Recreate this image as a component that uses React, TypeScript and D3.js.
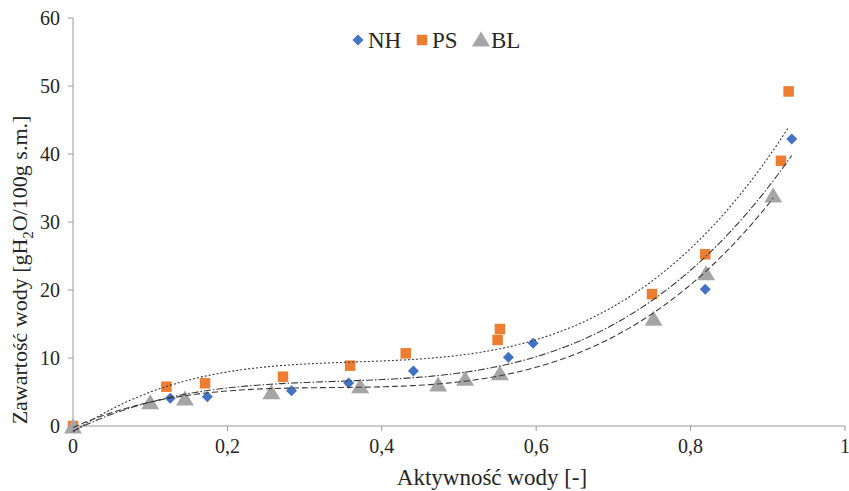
import React from "react";
import * as d3 from "d3";

// ---- data ----
const nhAw = [0, 0.126, 0.174, 0.283, 0.357, 0.441, 0.564, 0.596, 0.819, 0.931];
const nhM = [0, 4.07, 4.31, 5.19, 6.32, 8.09, 10.1, 12.16, 20.1, 42.2];

const psAw = [0, 0.121, 0.171, 0.272, 0.359, 0.431, 0.55, 0.553, 0.75, 0.819, 0.917, 0.927];
const psM = [0, 5.78, 6.28, 7.25, 8.87, 10.69, 12.65, 14.26, 19.4, 25.25, 39.0, 49.2];

const blAw = [0, 0.1, 0.145, 0.257, 0.372, 0.473, 0.508, 0.553, 0.752, 0.82, 0.907];
const blM = [0, 3.57, 4.12, 5.04, 5.93, 6.18, 7.01, 7.84, 15.84, 22.54, 33.97];

const xTicks = [0, 0.2, 0.4, 0.6, 0.8, 1];
const yTicks = [0, 10, 20, 30, 40, 50, 60];
const seriesNames = ["NH", "PS", "BL"];

// ---- polynomial (cubic) least-squares trend line, as in a spreadsheet ----
function polyFit(xs: number[], ys: number[], deg: number) {
  const n = deg + 1;
  const A = d3.range(n).map(() => d3.range(n + 1).map(() => 0));
  xs.forEach((xv, k) => {
    for (let i = 0; i < n; i++) {
      for (let j = 0; j < n; j++) A[i][j] += Math.pow(xv, i + j);
      A[i][n] += ys[k] * Math.pow(xv, i);
    }
  });
  for (let c = 0; c < n; c++) {
    let p = c;
    for (let r = c + 1; r < n; r++) if (Math.abs(A[r][c]) > Math.abs(A[p][c])) p = r;
    [A[c], A[p]] = [A[p], A[c]];
    for (let r = 0; r < n; r++) {
      if (r === c) continue;
      const f = A[r][c] / A[c][c];
      for (let j = c; j <= n; j++) A[r][j] -= f * A[c][j];
    }
  }
  return d3.range(n).map((i) => A[i][n] / A[i][i]);
}
const polyVal = (co: number[], a: number) => co.reduce((s, c, i) => s + c * Math.pow(a, i), 0);

const W = 849, H = 491;
const x = d3.scaleLinear().domain([0, 1]).range([73, 845]);
const y = d3.scaleLinear().domain([0, 60]).range([426, 18]);

const colors = ["#4472C4", "#ED7D31", "#A5A5A5"];
const dashes = ["7,2,1.5,2", "2,2", "6,3"];
const serif = "'Liberation Serif', 'Times New Roman', serif";
const textCol = "#262626";
const axisCol = "#9a9a9a";

function Marker({ kind, cx, cy }: { kind: number; cx: number; cy: number }) {
  if (kind === 0) {
    const r = 5.5;
    return <path d={`M${cx},${cy - r}L${cx + r},${cy}L${cx},${cy + r}L${cx - r},${cy}Z`} fill={colors[0]} />;
  }
  if (kind === 1) {
    const s = 10.5;
    return <rect x={cx - s / 2} y={cy - s / 2} width={s} height={s} fill={colors[1]} />;
  }
  const w = 18, h = 15;
  return <path d={`M${cx},${cy - h / 2}L${cx + w / 2},${cy + h / 2}L${cx - w / 2},${cy + h / 2}Z`} fill={colors[2]} />;
}

export default function App() {
  const all = [
    { aw: nhAw, m: nhM },
    { aw: psAw, m: psM },
    { aw: blAw, m: blM },
  ];
  const fits = all.map((s) => polyFit(s.aw, s.m, 3));
  const line = d3.line<[number, number]>().x((d) => x(d[0])).y((d) => y(d[1]));

  return (
    <svg width={W} height={H} style={{ position: "absolute", left: 0, top: 0, background: "#fff" }}>
      <rect width={W} height={H} fill="#fff" />
      {/* axes */}
      <line x1={x(0)} x2={x(0)} y1={y(60)} y2={y(0)} stroke={axisCol} strokeWidth={1} />
      <line x1={x(0)} x2={x(1)} y1={y(0)} y2={y(0)} stroke={axisCol} strokeWidth={1} />
      {yTicks.map((t) => (
        <g key={"y" + t}>
          <line x1={x(0) - 5} x2={x(0)} y1={y(t)} y2={y(t)} stroke={axisCol} />
          <text x={60} y={y(t) + 6.5} textAnchor="end" fontFamily={serif} fontSize={20} fill={textCol}>{t}</text>
        </g>
      ))}
      {xTicks.map((t) => (
        <g key={"x" + t}>
          <line x1={x(t)} x2={x(t)} y1={y(0)} y2={y(0) + 5} stroke={axisCol} />
          <text x={x(t)} y={453} textAnchor="middle" fontFamily={serif} fontSize={20} fill={textCol}>{String(t).replace(".", ",")}</text>
        </g>
      ))}
      <text x={(x(0) + x(1)) / 2 + 33} y={485} textAnchor="middle" fontFamily={serif} fontSize={23} fill={textCol}>Aktywność wody [-]</text>
      <text transform={`translate(27,${270}) rotate(-90)`} textAnchor="middle" fontFamily={serif} fontSize={22} fill={textCol}>
        Zawartość wody [gH<tspan fontSize={15} dy={6}>2</tspan><tspan dy={-6}>O/100g s.m.]</tspan>
      </text>

      {/* markers */}
      {all.map((s, k) => (
        <g key={"s" + k}>
          {s.aw.map((a, i) => <Marker key={i} kind={k} cx={x(a)} cy={y(s.m[i])} />)}
        </g>
      ))}

      {/* trend lines */}
      {all.map((s, k) => {
        const maxA = d3.max(s.aw) as number;
        const pts: [number, number][] = d3.range(0, 201).map((i) => {
          const a = (maxA * i) / 200;
          return [a, polyVal(fits[k], a)];
        });
        return <path key={"l" + k} d={line(pts) || ""} fill="none" stroke="#3a3a3a" strokeWidth={1.1} strokeDasharray={dashes[k]} />;
      })}

      {/* legend */}
      {seriesNames.map((n, k) => {
        const lx = [358, 422, 481][k];
        return (
          <g key={"lg" + k}>
            <Marker kind={k} cx={lx} cy={k === 2 ? 39 : 40} />
            <text x={lx + 10} y={48} fontFamily={serif} fontSize={23} fill={textCol}>{n}</text>
          </g>
        );
      })}
    </svg>
  );
}
